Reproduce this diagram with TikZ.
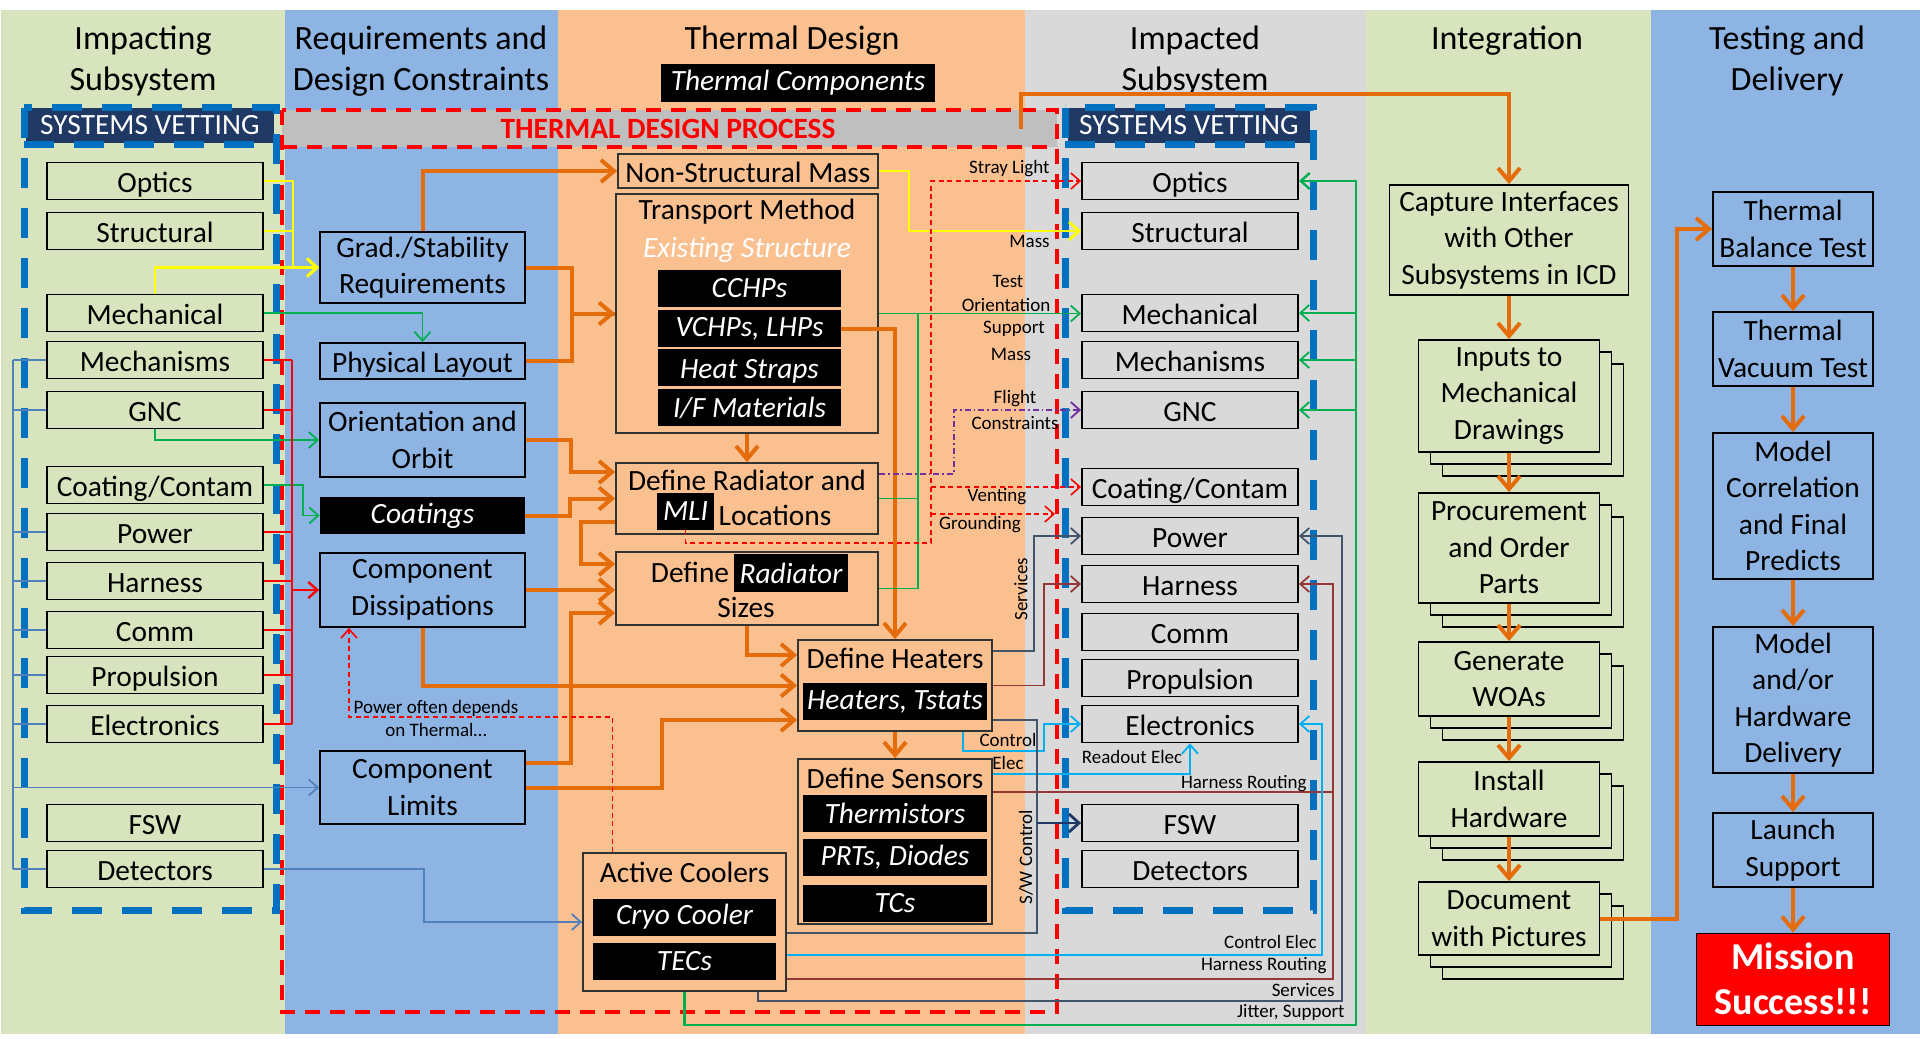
\documentclass[tikz,border=0pt]{standalone}
\usepackage{fontspec}
\setmainfont{Carlito}
\usetikzlibrary{arrows.meta,shadows}

\definecolor{bggreen}{HTML}{D7E4BD}
\definecolor{bgblue}{HTML}{8EB4E3}
\definecolor{bgorange}{HTML}{FAC090}
\definecolor{bggray}{HTML}{D9D9D9}
\definecolor{bandgray}{HTML}{BFBFBF}
\definecolor{vetnavy}{HTML}{1F3864}
\definecolor{vetblue}{HTML}{0070C0}
\definecolor{lnorange}{HTML}{E46C0A}
\definecolor{lngreen}{HTML}{00B050}
\definecolor{lnyellow}{HTML}{FFFF00}
\definecolor{lnred}{HTML}{FF0000}
\definecolor{lnpurple}{HTML}{7030A0}
\definecolor{lnsteel}{HTML}{4F81BD}
\definecolor{lnslate}{HTML}{44546A}
\definecolor{lnbrown}{HTML}{953735}
\definecolor{lncyan}{HTML}{00B0F0}

\newcommand{\boxfnt}{\fontsize{14.7}{18.2}\selectfont}
\newcommand{\headfnt}{\fontsize{17}{20.5}\selectfont}
\newcommand{\labfnt}{\fontsize{9.5}{11.5}\selectfont}

\begin{document}
\begin{tikzpicture}[x=0.5pt,y=-0.5pt,font=\boxfnt,
    fixt/.style={text height=11pt, text depth=0pt},
    sub/.style={draw=black, line width=0.9pt, minimum width=108pt, minimum height=18.5pt, inner sep=0pt, fixt},
    lsub/.style={sub, fill=bggreen},
    rsub/.style={sub, fill=bggray},
    req/.style={draw=black, line width=0.9pt, fill=bgblue, minimum width=102.5pt, inner sep=0pt, align=center},
    thm/.style={draw=black!80, line width=0.9pt, fill=bgorange, inner sep=0pt},
    blk/.style={fill=black, text=white, font=\boxfnt\itshape, inner sep=0pt, minimum height=18.5pt},
    integ/.style={draw=black, line width=0.9pt, fill=bggreen, minimum width=90.5pt, inner sep=0pt, align=center,
      double copy shadow={shadow xshift=6pt, shadow yshift=-6pt}},
    tst/.style={draw=black, line width=0.9pt, fill=bgblue, minimum width=80pt, inner sep=0pt, align=center},
    head/.style={font=\headfnt, align=center},
    lab/.style={font=\labfnt, inner sep=0pt},
    vetbar/.style={fill=vetnavy, text=white, minimum height=17.5pt, inner sep=0pt},
    vetframe/.style={vetblue, line width=3.5pt, dash pattern=on 15pt off 10pt},
    tdpframe/.style={lnred, line width=2pt, dash pattern=on 7.5pt off 5pt},
    oarr/.style={lnorange, line width=2pt, -{Straight Barb[length=6.5pt,width=11pt]}},
    oln/.style={lnorange, line width=2pt},
    yarr/.style={lnyellow, line width=1.4pt, -{Straight Barb[length=5pt,width=9pt]}},
    yln/.style={lnyellow, line width=1.4pt},
    tarr/.style={line width=0.9pt, -{Straight Barb[length=4.5pt,width=8pt]}},
    tln/.style={line width=0.9pt},
    rdash/.style={lnred, line width=0.8pt, dash pattern=on 2.5pt off 1.8pt, -{Straight Barb[length=4.5pt,width=8pt]}}]

  \useasboundingbox (0,0) rectangle (1920,1038);

  % colonnes
  \fill[bggreen] (1,10) rectangle (285,1034);
  \fill[bgblue] (285,10) rectangle (558,1034);
  \fill[bgorange] (558,10) rectangle (1025,1034);
  \fill[bggray] (1025,10) rectangle (1366,1034);
  \fill[bggreen] (1366,10) rectangle (1651,1034);
  \fill[bgblue] (1651,10) rectangle (1920,1034);

  \node[head] (hImp) at (143,61) {Impacting\\Subsystem};
  \node[head] (hReq) at (421,61) {Requirements and\\Design Constraints};
  \node[head] (hThm) at (792,41) {Thermal Design};
  \node[blk, minimum width=137pt, minimum height=19pt] (hComp) at (798,83) {Thermal Components};
  \node[head] (hImd) at (1195,61) {Impacted\\Subsystem};
  \node[head] (hInt) at (1507,41) {Integration};
  \node[head] (hTst) at (1787,61) {Testing and\\Delivery};

  % processus thermique
  \fill[bandgray] (282,110) rectangle (1057,147);
  \node[font=\boxfnt\bfseries, text=lnred] (tdpTitle) at (668,129) {THERMAL DESIGN PROCESS};
  \draw[tdpframe] (282,110) rectangle (1057,1012);
  \draw[tdpframe] (282,147) -- (1057,147);

  % systems vetting
  \node[vetbar, minimum width=124pt] (vetL) at (150,125.5) {SYSTEMS VETTING};
  \node[vetbar, minimum width=121pt] (vetR) at (1189,125.5) {SYSTEMS VETTING};
  \draw[vetframe] (24,108) rectangle (276,910);
  \draw[vetframe] (24,144) -- (276,144);
  \draw[vetframe] (1065,108) rectangle (1313,910);
  \draw[vetframe] (1065,144) -- (1313,144);

  % sous-systemes impactants
  \node[lsub] (LOpt) at (155,181) {Optics};
  \node[lsub] (LStr) at (155,231) {Structural};
  \node[lsub] (LMec) at (155,313) {Mechanical};
  \node[lsub] (LMcs) at (155,360) {Mechanisms};
  \node[lsub] (LGnc) at (155,410) {GNC};
  \node[lsub] (LCoat) at (155,485) {Coating/Contam};
  \node[lsub] (LPow) at (155,532) {Power};
  \node[lsub] (LHar) at (155,581) {Harness};
  \node[lsub] (LCom) at (155,630) {Comm};
  \node[lsub] (LPro) at (155,675) {Propulsion};
  \node[lsub] (LEle) at (155,724) {Electronics};
  \node[lsub] (LFsw) at (155,823) {FSW};
  \node[lsub] (LDet) at (155,869) {Detectors};

  % sous-systemes impactes
  \node[rsub] (ROpt) at (1190,181) {Optics};
  \node[rsub] (RStr) at (1190,231) {Structural};
  \node[rsub] (RMec) at (1190,313) {Mechanical};
  \node[rsub] (RMcs) at (1190,360) {Mechanisms};
  \node[rsub] (RGnc) at (1190,410) {GNC};
  \node[rsub] (RCoat) at (1190,487) {Coating/Contam};
  \node[rsub] (RPow) at (1190,536) {Power};
  \node[rsub] (RHar) at (1190,584) {Harness};
  \node[rsub] (RCom) at (1190,632) {Comm};
  \node[rsub] (RPro) at (1190,678) {Propulsion};
  \node[rsub] (REle) at (1190,724) {Electronics};
  \node[rsub] (RFsw) at (1190,823) {FSW};
  \node[rsub] (RDet) at (1190,869) {Detectors};

  % exigences
  \node[req, minimum height=35.5pt] (grad) at (422.5,267.5) {Grad./Stability\\Requirements};
  \node[req, minimum height=18pt, fixt] (layout) at (422.5,361) {Physical Layout};
  \node[req, minimum height=37pt] (orbit) at (422.5,440) {Orientation and\\Orbit};
  \node[blk, minimum width=102.5pt] (coatings) at (422.5,515.5) {Coatings};
  \node[req, minimum height=37pt] (dissip) at (422.5,590) {Component\\Dissipations};
  \node[req, minimum height=36.5pt] (limits) at (422.5,787.5) {Component\\Limits};

  % conception thermique
  \node[thm, minimum width=130pt, minimum height=17pt, fixt] (nsm) at (748,171) {Non-Structural Mass};
  \node[thm, minimum width=131pt, minimum height=119.5pt] (transport) at (747,313.5) {};
  \node (transportT) at (747,212) {Transport Method};
  \node[text=white, font=\boxfnt\itshape] (exist) at (747,250) {Existing Structure};
  \node[blk, minimum width=91.5pt] (cchp) at (749.5,288) {CCHPs};
  \node[blk, minimum width=91.5pt] (vchp) at (749.5,328.5) {VCHPs, LHPs};
  \node[blk, minimum width=91.5pt, fixt] (straps) at (749.5,367.5) {Heat Straps};
  \node[blk, minimum width=91.5pt] (ifmat) at (749.5,407.5) {I/F Materials};

  \node[thm, minimum width=131pt, minimum height=35.5pt] (radloc) at (747,498.5) {};
  \node (radlocT) at (747,480) {Define Radiator and};
  \node[blk, minimum width=28.5pt] (mli) at (685.5,511.5) {MLI};
  \node (radlocL) at (775,515) {Locations};

  \node[thm, minimum width=131pt, minimum height=36.5pt] (radsize) at (747,588.5) {};
  \node (radsizeT) at (690,572) {Define};
  \node[blk, minimum width=57pt, minimum height=19pt] (radblk) at (791,573) {Radiator};
  \node (radsizeS) at (746,607) {Sizes};

  \node[thm, minimum width=97pt, minimum height=45.5pt] (heaters) at (895,685.5) {};
  \node (heatersT) at (895,658) {Define Heaters};
  \node[blk, minimum width=92pt] (htrblk) at (895,701.5) {Heaters, Tstats};

  \node[thm, minimum width=97pt, minimum height=82.5pt] (sensors) at (895,841.5) {};
  \node (sensorsT) at (895,778) {Define Sensors};
  \node[blk, minimum width=92pt] (thermistors) at (895,813) {Thermistors};
  \node[blk, minimum width=92pt] (prts) at (895,857.5) {PRTs, Diodes};
  \node[blk, minimum width=92pt] (tcs) at (895,903) {TCs};

  \node[thm, minimum width=101.5pt, minimum height=69pt] (coolers) at (684.5,922) {};
  \node (coolersT) at (684.5,872) {Active Coolers};
  \node[blk, minimum width=91.5pt] (cryo) at (684.5,917) {Cryo Cooler};
  \node[blk, minimum width=91.5pt] (tecs) at (684.5,961) {TECs};

  % integration
  \node[draw=black, line width=0.9pt, fill=bggreen, minimum width=119.5pt, minimum height=55pt, inner sep=0pt, align=center] (capture) at (1509,240) {Capture Interfaces\\with Other\\Subsystems in ICD};
  \node[integ, minimum height=56pt] (inputs) at (1509,396) {Inputs to\\Mechanical\\Drawings};
  \node[integ, minimum height=55pt] (procure) at (1509,548) {Procurement\\and Order\\Parts};
  \node[integ, minimum height=37pt] (woas) at (1509,679) {Generate\\WOAs};
  \node[integ, minimum height=37pt] (install) at (1509,799) {Install\\Hardware};
  \node[integ, minimum height=36.5pt] (docs) at (1509,918.5) {Document\\with Pictures};

  % essais et livraison
  \node[tst, minimum height=37pt] (balance) at (1793,229) {Thermal\\Balance Test};
  \node[tst, minimum height=37pt] (vacuum) at (1793,349) {Thermal\\Vacuum Test};
  \node[tst, minimum height=73pt] (correl) at (1793,506) {Model\\Correlation\\and Final\\Predicts};
  \node[tst, minimum height=73pt] (delivery) at (1793,700) {Model\\and/or\\Hardware\\Delivery};
  \node[tst, minimum height=37pt] (launch) at (1793,850) {Launch\\Support};
  \node[draw=black, fill=lnred, text=white, font=\fontsize{19}{22.5}\selectfont\bfseries, minimum width=96.5pt, minimum height=46pt, inner sep=0pt, align=center] (success) at (1793,979) {Mission\\Success!!!};

  % liaisons orange
  \draw[oarr] (grad.north) |- (nsm.west);
  \draw[oarr] (grad.east) -- ++(46,0) |- (transport.west);
  \draw[oln] (layout.east) -- ++(46,0) |- (transport.west);
  \draw[oarr] (orbit.east) -- ++(45,0) |- ([yshift=13.25pt]radloc.west);
  \draw[oarr] (coatings.east) -- ++(45,0) |- (radloc.west);
  \draw[oarr] ([yshift=-11.75pt]radloc.west) -- ++(-34,0) |- ([yshift=12.25pt]radsize.west);
  \draw[oarr] (dissip.east) -- (dissip.east -| radsize.west);
  \draw[oarr] ([yshift=12.25pt]limits.east) -- ++(45,0) |- ([yshift=-12.25pt]radsize.west);
  \draw[oarr] (limits.east) -- ++(136,0) |- ([yshift=-17.25pt]heaters.west);
  \draw[oarr] (dissip.south) |- (heaters.west);
  \draw[oarr] (radsize.south) |- ([yshift=15.25pt]heaters.west);
  \draw[oarr] (vchp.east) -| (heaters.north);
  \draw[oarr] (transport.south) -- (radloc.north);
  \draw[oarr] (heaters.south) -- (sensors.north);

  \coordinate (tdp) at (1021,129);
  \draw[oarr] (tdp) -- ++(0,-35) -| (capture.north);
  \draw[oarr] (capture.south) -- (inputs.north);
  \foreach \a/\b in {inputs/procure, procure/woas, woas/install, install/docs}
    \draw[oarr] (\a.south) -- (\b.north);
  \draw[oarr] (docs.east) -- ++(77,0) |- (balance.west);
  \foreach \a/\b in {balance/vacuum, vacuum/correl, correl/delivery, delivery/launch, launch/success}
    \draw[oarr] (\a.south) -- (\b.north);

  % liaisons jaunes
  \draw[yarr] (LOpt.east) -- ++(29,0) |- (grad.west);
  \draw[yln] (LStr.east) -- ++(29,0);
  \draw[yarr] (LMec.north) |- (grad.west);
  \draw[yarr] (nsm.east) -- ++(30,0) |- (RStr.west); % Mass

  % liaisons vertes
  \draw[tarr, lngreen] (LMec.east) -| (layout.north);
  \draw[tarr, lngreen] (LGnc.south) |- (orbit.west);
  \draw[tarr, lngreen] (LCoat.east) -- ++(39,0) |- (coatings.west);
  \draw[tarr, lngreen] (transport.east) -- (transport.east -| RMec.west);
  \draw[tln, lngreen] (radloc.east) -| ([xshift=19.5pt]transport.east);
  \draw[tln, lngreen] (radsize.east) -| ([xshift=19.5pt]transport.east);
  \coordinate (jit) at (1356,1025);
  \draw[tarr, lngreen, line width=1.2pt] (coolers.south) |- (jit) |- (ROpt.east); % Jitter, Support
  \foreach \n in {RMec,RMcs,RGnc}
    \draw[tarr, lngreen] (\n.east -| jit) -- (\n.east);

  % liaisons bleues et rouges a gauche
  \coordinate (lspine) at (13,0);
  \draw[tln, lnsteel] (lspine |- LMcs.west) -- (lspine |- LDet.west);
  \foreach \n in {LMcs,LGnc,LPow,LHar,LCom,LPro,LEle,LDet}
    \draw[tln, lnsteel] (lspine |- \n.west) -- (\n.west);
  \draw[tarr, lnsteel] (lspine |- limits.west) -- (limits.west);
  \draw[tarr, lnsteel] (LDet.east) -- ++(160,0) |- (coolers.west);

  \coordinate (rspine) at (292,0);
  \draw[tln, lnred] (rspine |- LMcs.east) -- (rspine |- LEle.east);
  \foreach \n in {LMcs,LGnc,LPow,LHar,LCom,LPro,LEle}
    \draw[tln, lnred] (\n.east) -- (rspine |- \n.east);
  \draw[tarr, lnred, line width=1.2pt] (rspine |- dissip.west) -- (dissip.west);

  \draw[rdash] ([xshift=-36pt]coolers.north) -- ++(0,-135) -| ([xshift=-36.75pt]dissip.south);
  \node[lab, align=center] (lbPower) at (436,718) {Power often depends\\on Thermal\dots};

  % liaisons vers les sous-systemes impactes
  \coordinate (stray) at (931,543);
  \coordinate (gnd) at (1055,514);
  \draw[rdash] (mli.south) |- (stray) |- (ROpt.west); % Stray Light
  \draw[rdash] (stray |- RCoat.west) -- (RCoat.west); % Venting
  \draw[rdash] (stray |- gnd) -- (gnd); % Grounding
  \draw[tarr, lnpurple, dash pattern=on 3pt off 1.5pt on 0.8pt off 1.5pt] ([yshift=12.25pt]radloc.east) -- ++(75,0) |- (RGnc.west);

  \draw[tarr, lnslate] ([yshift=17.25pt]heaters.east) -- ++(41,0) |- (RPow.west); % Services
  \draw[tarr, lnslate] ([xshift=36.75pt]coolers.south) -- ++(0,9) -| ([xshift=21.5pt]RPow.east) -- (RPow.east);
  \draw[tarr, lnbrown] (heaters.east) -- ++(51,0) |- (RHar.west);
  \draw[tarr, lnbrown] ([yshift=24.75pt]sensors.east) -| ([xshift=17pt]RHar.east) -- (RHar.east);
  \draw[tln, lnbrown] ([yshift=-28.5pt]coolers.east) -| ([xshift=17pt]RHar.east);
  \draw[tarr, lncyan] ([xshift=34pt]heaters.south) -- ++(0,19) -| ([xshift=-18.5pt]REle.west) -- (REle.west);
  \draw[tarr, lncyan] ([yshift=33.75pt]sensors.east) -| (REle.south); % Readout Elec
  \draw[tarr, lncyan] ([yshift=-16.5pt]coolers.east) -| ([xshift=11.5pt]REle.east) -- (REle.east);

  \coordinate (swc) at (1037,823);
  \draw[tln, lnslate] ([yshift=-17.25pt]heaters.east) -| (swc) |- ([yshift=-5.5pt]coolers.east);
  \draw[vetnavy, line width=1.4pt, -{Straight Barb[length=5pt,width=9pt]}] (swc) -- (RFsw.west); % S/W Control

  % etiquettes
  \node[lab, anchor=east] (lbStray) at (1050,169) {Stray Light};
  \node[lab, anchor=east] (lbMass) at (1050,241) {Mass};
  \node[lab] (lbTest) at (1008,281) {Test};
  \node[lab] (lbOrient) at (1006,305) {Orientation};
  \node[lab] (lbSupport) at (1014,329) {Support};
  \node[lab] (lbMass2) at (1011,354) {Mass};
  \node[lab] (lbFlight) at (1015,399) {Flight};
  \node[lab] (lbConstr) at (1015,423) {Constraints};
  \node[lab] (lbVent) at (997,497) {Venting};
  \node[lab] (lbGround) at (980,525) {Grounding};
  \node[lab, rotate=90] (lbServ) at (1021,589) {Services};
  \node[lab, align=center] (lbCtrl) at (1008,751) {Control\\Elec};
  \node[lab] (lbRead) at (1132,757) {Readout Elec};
  \node[lab, anchor=east] (lbHarn) at (1307,784) {Harness Routing};
  \node[lab, rotate=90] (lbSW) at (1026,857) {S/W Control};
  \node[lab, anchor=east] (lbCtrl2) at (1317,942) {Control Elec};
  \node[lab, anchor=east] (lbHarn2) at (1327,966) {Harness Routing};
  \node[lab, anchor=east] (lbServ2) at (1335,990) {Services};
  \node[lab, anchor=east] (lbJit) at (1345,1012) {Jitter, Support};
\end{tikzpicture}
\end{document}
